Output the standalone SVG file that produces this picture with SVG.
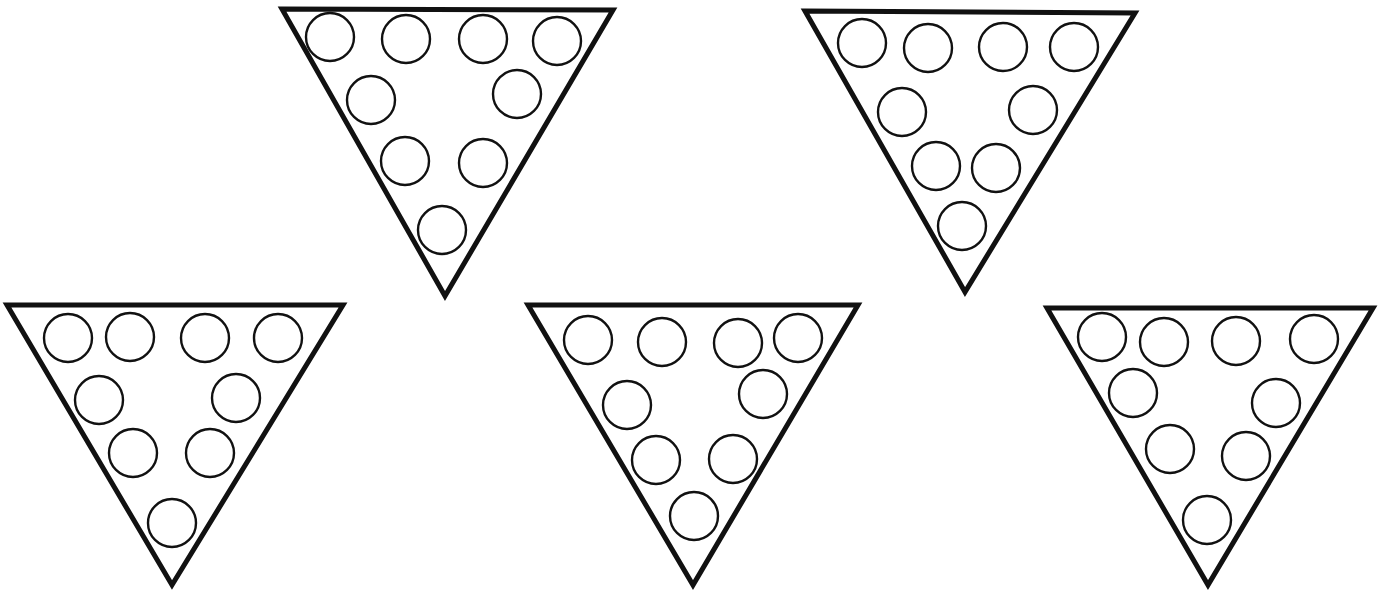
<svg xmlns="http://www.w3.org/2000/svg" width="1382" height="590" viewBox="0 0 1382 590">
<style>
.tri{fill:none;stroke:#111;stroke-width:5;stroke-linejoin:miter}
.c{fill:none;stroke:#111;stroke-width:2.4}
</style>
<rect width="1382" height="590" fill="#fff"/>
<g id="triangle-top-left">
<polygon class="tri" points="282,9 613,10 445,296"/>
<circle class="c" cx="330" cy="37" r="24"/>
<circle class="c" cx="406" cy="39" r="24"/>
<circle class="c" cx="483" cy="39" r="24"/>
<circle class="c" cx="557" cy="41" r="24"/>
<circle class="c" cx="371" cy="100" r="24"/>
<circle class="c" cx="517" cy="94" r="24"/>
<circle class="c" cx="405" cy="161" r="24"/>
<circle class="c" cx="483" cy="163" r="24"/>
<circle class="c" cx="442" cy="230" r="24"/>
</g>
<g id="triangle-top-right">
<polygon class="tri" points="805,11 1135,13 965,292"/>
<circle class="c" cx="862" cy="43" r="24"/>
<circle class="c" cx="928" cy="48" r="24"/>
<circle class="c" cx="1003" cy="47" r="24"/>
<circle class="c" cx="1074" cy="47" r="24"/>
<circle class="c" cx="902" cy="112" r="24"/>
<circle class="c" cx="1033" cy="110" r="24"/>
<circle class="c" cx="936" cy="166" r="24"/>
<circle class="c" cx="996" cy="168" r="24"/>
<circle class="c" cx="962" cy="226" r="24"/>
</g>
<g id="triangle-bottom-left">
<polygon class="tri" points="7,305 343,305 172,585"/>
<circle class="c" cx="68" cy="338" r="24"/>
<circle class="c" cx="130" cy="337" r="24"/>
<circle class="c" cx="205" cy="338" r="24"/>
<circle class="c" cx="278" cy="338" r="24"/>
<circle class="c" cx="99" cy="400" r="24"/>
<circle class="c" cx="236" cy="398" r="24"/>
<circle class="c" cx="133" cy="453" r="24"/>
<circle class="c" cx="210" cy="453" r="24"/>
<circle class="c" cx="172" cy="523" r="24"/>
</g>
<g id="triangle-bottom-middle">
<polygon class="tri" points="528,305 858,305 693,585"/>
<circle class="c" cx="588" cy="340" r="24"/>
<circle class="c" cx="662" cy="342" r="24"/>
<circle class="c" cx="738" cy="343" r="24"/>
<circle class="c" cx="798" cy="338" r="24"/>
<circle class="c" cx="627" cy="405" r="24"/>
<circle class="c" cx="763" cy="394" r="24"/>
<circle class="c" cx="656" cy="460" r="24"/>
<circle class="c" cx="733" cy="459" r="24"/>
<circle class="c" cx="694" cy="516" r="24"/>
</g>
<g id="triangle-bottom-right">
<polygon class="tri" points="1047,308 1373,308 1208,585"/>
<circle class="c" cx="1102" cy="337" r="24"/>
<circle class="c" cx="1164" cy="342" r="24"/>
<circle class="c" cx="1236" cy="341" r="24"/>
<circle class="c" cx="1314" cy="339" r="24"/>
<circle class="c" cx="1133" cy="393" r="24"/>
<circle class="c" cx="1276" cy="403" r="24"/>
<circle class="c" cx="1170" cy="449" r="24"/>
<circle class="c" cx="1246" cy="456" r="24"/>
<circle class="c" cx="1207" cy="520" r="24"/>
</g>
<g id="connectors"/>
</svg>
